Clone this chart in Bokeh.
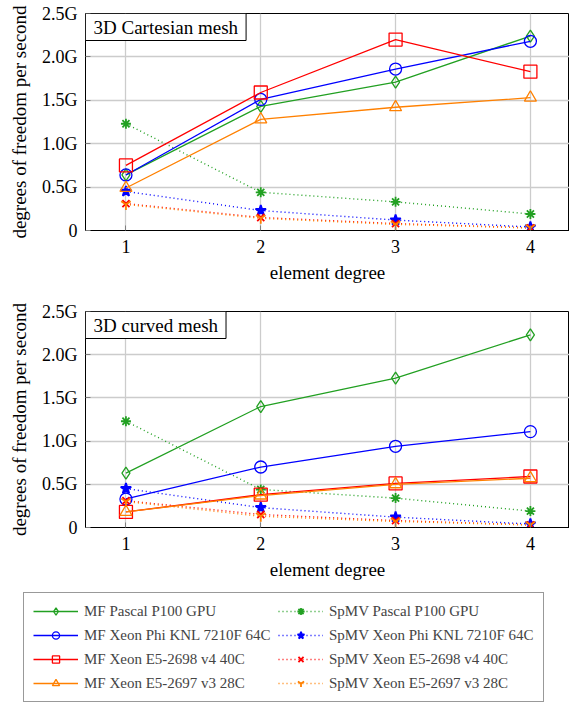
from bokeh.plotting import figure
from bokeh.layouts import column
from bokeh.models import Legend, LegendItem, Label, FixedTicker, Range1d
from bokeh.embed import file_html
from bokeh.resources import INLINE

# ---------------- data ----------------
degrees = [1, 2, 3, 4]
y_ticks = [0, 0.5, 1.0, 1.5, 2.0, 2.5]
y_tick_labels = ["0", "0.5G", "1.0G", "1.5G", "2.0G", "2.5G"]

cart_mf_p100 = [0.64, 1.43, 1.71, 2.24]
cart_mf_knl = [0.64, 1.51, 1.86, 2.18]
cart_mf_e5v4 = [0.75, 1.59, 2.20, 1.83]
cart_mf_e5v3 = [0.49, 1.28, 1.42, 1.53]
cart_spmv_p100 = [1.23, 0.44, 0.33, 0.19]
cart_spmv_knl = [0.45, 0.23, 0.12, 0.04]
cart_spmv_e5v4 = [0.31, 0.15, 0.08, 0.03]
cart_spmv_e5v3 = [0.30, 0.14, 0.07, 0.03]

curv_mf_p100 = [0.63, 1.40, 1.73, 2.23]
curv_mf_knl = [0.33, 0.70, 0.94, 1.11]
curv_mf_e5v4 = [0.18, 0.38, 0.51, 0.59]
curv_mf_e5v3 = [0.18, 0.37, 0.50, 0.57]
curv_spmv_p100 = [1.23, 0.44, 0.34, 0.19]
curv_spmv_knl = [0.45, 0.23, 0.12, 0.04]
curv_spmv_e5v4 = [0.31, 0.15, 0.08, 0.03]
curv_spmv_e5v3 = [0.30, 0.13, 0.07, 0.03]

mf_labels = ["MF Pascal P100 GPU", "MF Xeon Phi KNL 7210F 64C",
             "MF Xeon E5-2698 v4 40C", "MF Xeon E5-2697 v3 28C"]
spmv_labels = ["SpMV Pascal P100 GPU", "SpMV Xeon Phi KNL 7210F 64C",
               "SpMV Xeon E5-2698 v4 40C", "SpMV Xeon E5-2697 v3 28C"]

GREEN = "#22a022"
BLUE = "#0000ff"
RED = "#ff0000"
ORANGE = "#ff8000"
colors = [GREEN, BLUE, RED, ORANGE]
mf_markers = ["diamond", "circle", "square", "triangle"]
mf_sizes = [12, 12, 13, 12]
spmv_markers = ["asterisk", "star", "x", "y"]
spmv_sizes = [10, 11, 10, 11]

FONT = "Liberation Serif"


def add_series(p, mf, spmv, visible=True):
    mf_items, spmv_items = [], []
    for i in range(4):
        c = colors[i]
        l1 = p.line(degrees, mf[i], line_color=c, line_width=1.3, visible=visible)
        m1 = p.scatter(degrees, mf[i], marker=mf_markers[i], size=mf_sizes[i],
                       line_color=c, fill_color="white", fill_alpha=0.0, line_width=1.3,
                       visible=visible)
        l2 = p.line(degrees, spmv[i], line_color=c, line_width=1.4, line_dash="1 3",
                    visible=visible)
        m2 = p.scatter(degrees, spmv[i], marker=spmv_markers[i], size=spmv_sizes[i],
                       line_color=c, fill_color=c, line_width=1.8, visible=visible)
        mf_items.append(LegendItem(label=mf_labels[i], renderers=[l1, m1]))
        spmv_items.append(LegendItem(label=spmv_labels[i], renderers=[l2, m2]))
    return mf_items + spmv_items


def make_fig(height, top, bottom, title, mf, spmv):
    p = figure(width=569, height=height, output_backend="svg", toolbar_location=None,
               x_range=Range1d(0.7, 4.29), y_range=Range1d(0, 2.5),
               min_border_left=85, min_border_right=0,
               min_border_top=top, min_border_bottom=bottom)
    p.outline_line_color = "black"
    p.outline_line_width = 1
    p.background_fill_color = "white"
    p.border_fill_color = "white"
    for ax in (p.xaxis[0], p.yaxis[0]):
        ax.axis_line_color = "black"
        ax.major_tick_in = 5
        ax.major_tick_out = 0
        ax.minor_tick_in = 0
        ax.minor_tick_out = 0
        ax.major_tick_line_color = "#808080"
        ax.major_label_text_font = FONT
        ax.major_label_text_font_size = "18px"
        ax.major_label_text_color = "black"
        ax.axis_label_text_font = FONT
        ax.axis_label_text_font_size = "19px"
        ax.axis_label_text_font_style = "normal"
        ax.axis_label_text_color = "black"
    p.xaxis.ticker = FixedTicker(ticks=degrees)
    p.xaxis.major_label_standoff = 9
    p.xaxis.axis_label = "element degree"
    p.xaxis.axis_label_standoff = 6
    p.yaxis.ticker = FixedTicker(ticks=y_ticks)
    p.yaxis.major_label_overrides = {t: l for t, l in zip(y_ticks, y_tick_labels)}
    p.yaxis.major_label_standoff = 8
    p.yaxis.axis_label = "degrees of freedom per second"
    p.yaxis.axis_label_standoff = 9
    p.grid.grid_line_color = "#cccccc"
    p.grid.grid_line_width = 1.3

    add_series(p, mf, spmv)

    lab = Label(x=0.7, y=2.5, text=title, anchor="top_left",
                text_font=FONT, text_font_size="19px", text_color="black",
                border_line_color="black", border_line_width=1,
                background_fill_color="white",
                padding=dict(left=8, right=8, top=3, bottom=3))
    p.add_layout(lab)
    return p


p1 = make_fig(293, 13, 63, "3D Cartesian mesh",
              [cart_mf_p100, cart_mf_knl, cart_mf_e5v4, cart_mf_e5v3],
              [cart_spmv_p100, cart_spmv_knl, cart_spmv_e5v4, cart_spmv_e5v3])
p2 = make_fig(297, 18, 63, "3D curved mesh",
              [curv_mf_p100, curv_mf_knl, curv_mf_e5v4, curv_mf_e5v3],
              [curv_spmv_p100, curv_spmv_knl, curv_spmv_e5v4, curv_spmv_e5v3])

# legend panel
p3 = figure(width=569, height=115, output_backend="svg", toolbar_location=None,
            x_axis_type=None, y_axis_type=None,
            min_border_left=0, min_border_right=0, min_border_top=0, min_border_bottom=0)
p3.frame_align = False
p3.outline_line_color = None
p3.grid.visible = False
items = add_series(p3, [curv_mf_p100, curv_mf_knl, curv_mf_e5v4, curv_mf_e5v3],
                   [curv_spmv_p100, curv_spmv_knl, curv_spmv_e5v4, curv_spmv_e5v3],
                   visible=False)

legend = Legend(items=items, location=(23, 3), orientation="vertical", ncols=2,
                label_text_font=FONT, label_text_font_size="15px",
                glyph_width=45, glyph_height=18, label_height=18, label_width=188,
                label_standoff=6, spacing=6, padding=9, margin=0,
                border_line_color="#333333", border_line_width=1,
                background_fill_color="white", background_fill_alpha=1.0)
p3.add_layout(legend, "center")

layout = column(p1, p2, p3, spacing=0)
open("out.html", "w").write(file_html(layout, INLINE))
